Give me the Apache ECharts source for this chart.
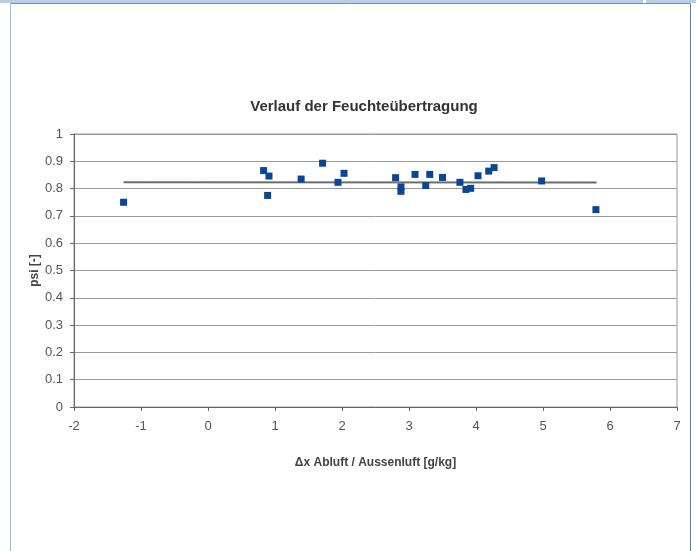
<!DOCTYPE html>
<html>
<head>
<meta charset="utf-8">
<script src="https://cdn.jsdelivr.net/npm/echarts@6/dist/echarts.min.js"></script>
<style>
html,body{margin:0;padding:0;background:#fff;}
#c{width:696px;height:551px;}
</style>
</head>
<body>
<div id="c"></div>
<script>
// Data
const xValues = [-1.26, 0.83, 0.91, 0.89, 1.39, 1.71, 1.94, 2.03, 2.80, 2.88, 2.88, 3.09, 3.25, 3.31, 3.50, 3.76, 3.85, 3.92, 4.03, 4.19, 4.27, 4.98, 5.79];
const psiValues = [0.750, 0.866, 0.846, 0.775, 0.835, 0.893, 0.823, 0.856, 0.840, 0.806, 0.790, 0.852, 0.811, 0.852, 0.841, 0.823, 0.797, 0.801, 0.847, 0.864, 0.877, 0.828, 0.723];
const trendX = [-1.26, 5.80];
const trendY = [0.823, 0.822];
const xTicks = [-2, -1, 0, 1, 2, 3, 4, 5, 6, 7];
const yTicks = [0, 0.1, 0.2, 0.3, 0.4, 0.5, 0.6, 0.7, 0.8, 0.9, 1];

const chart = echarts.init(document.getElementById('c'), null, {renderer: 'canvas'});
const font = 'Liberation Sans, Arial, sans-serif';
chart.setOption({
  animation: false,
  backgroundColor: '#fff',
  graphic: [
    {type: 'rect', shape: {x: 0, y: 0, width: 643, height: 3}, style: {fill: '#bccde2'}, silent: true},
    {type: 'rect', shape: {x: 646, y: 0, width: 50, height: 3}, style: {fill: '#bccde2'}, silent: true},
    {type: 'line', shape: {x1: 10.5, y1: 3.5, x2: 690.5, y2: 3.5}, style: {stroke: '#6f8fb8', lineWidth: 1}, silent: true},
    {type: 'line', shape: {x1: 10.5, y1: 3.5, x2: 10.5, y2: 551}, style: {stroke: '#a9bcd6', lineWidth: 1}, silent: true},
    {type: 'line', shape: {x1: 690.5, y1: 3.5, x2: 690.5, y2: 551}, style: {stroke: '#5b7fad', lineWidth: 1}, silent: true}
  ],
  title: {
    text: 'Verlauf der Feuchteübertragung',
    left: 359, top: 94, textAlign: 'center',
    textStyle: {fontFamily: font, fontSize: 15, fontWeight: 'bold', color: '#333'}
  },
  grid: {
    left: 74, right: 19, top: 134, bottom: 144,
    show: true, borderColor: '#9a9a9a', borderWidth: 1, backgroundColor: 'transparent'
  },
  xAxis: {
    type: 'value', min: xTicks[0], max: xTicks[xTicks.length - 1], interval: 1,
    name: 'Δx Abluft / Aussenluft [g/kg]', nameLocation: 'middle', nameGap: 50,
    nameTextStyle: {fontFamily: font, fontSize: 12, fontWeight: 'bold', color: '#444'},
    axisLine: {show: true, onZero: false, lineStyle: {color: '#666', width: 1}},
    axisTick: {show: true, length: 4, lineStyle: {color: '#666'}},
    axisLabel: {fontFamily: font, fontSize: 13, color: '#555', margin: 13},
    splitLine: {show: false}
  },
  yAxis: {
    type: 'value', min: yTicks[0], max: yTicks[yTicks.length - 1], interval: 0.1,
    name: 'psi [-]', nameLocation: 'middle', nameGap: 33, nameRotate: 90,
    nameMoveOverlap: false,
    nameTextStyle: {fontFamily: font, fontSize: 12, fontWeight: 'bold', color: '#444'},
    axisLine: {show: true, onZero: false, lineStyle: {color: '#666', width: 1}},
    axisTick: {show: true, length: 4, lineStyle: {color: '#666'}},
    axisLabel: {fontFamily: font, fontSize: 13, color: '#555', margin: 11,
      formatter: v => String(Math.round(v * 10) / 10)},
    splitLine: {show: true, lineStyle: {color: '#9a9a9a', width: 1}}
  },
  series: [
    {
      type: 'line',
      data: trendX.map((x, i) => [x, trendY[i]]),
      symbol: 'none',
      lineStyle: {color: '#6e6e6e', width: 2},
      z: 2
    },
    {
      type: 'scatter',
      data: xValues.map((x, i) => [x, psiValues[i]]),
      symbol: 'rect', symbolSize: 7,
      itemStyle: {color: '#0a4596', opacity: 1},
      z: 3
    }
  ]
});
</script>
</body>
</html>
